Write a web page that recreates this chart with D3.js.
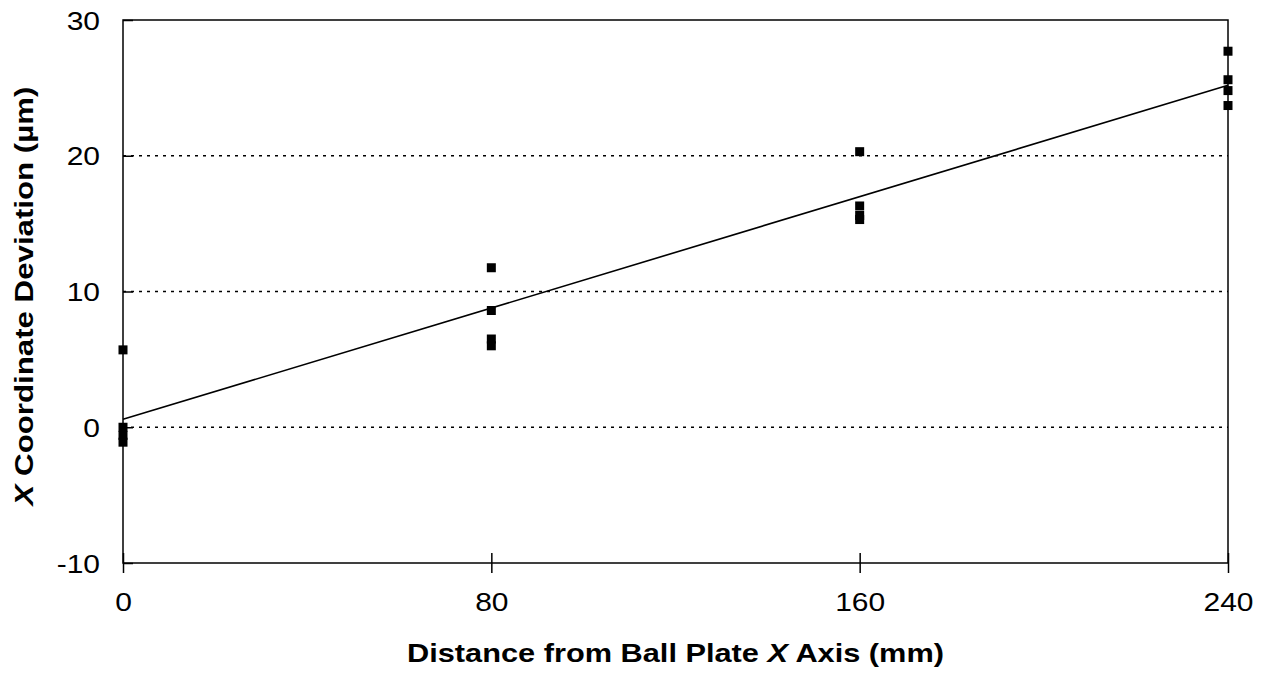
<!DOCTYPE html>
<html>
<head>
<meta charset="utf-8">
<script src="https://cdn.jsdelivr.net/npm/d3@7"></script>
<style>
  body { margin: 0; background: #fff; }
  text { font-family: "Liberation Sans", Arial, sans-serif; fill: #000; }
</style>
</head>
<body>
<svg id="chart"></svg>
<script>
// measured positions along the ball plate (mm)
const distances = [0, 80, 160, 240];
// X coordinate deviation readings (um) at each distance
const dev0   = [5.7, 0.0, -0.6, -1.1];
const dev80  = [11.75, 8.6, 6.5, 6.0];
const dev160 = [20.3, 16.3, 15.6, 15.3];
const dev240 = [27.7, 25.6, 24.8, 23.7];
const xTicks = [0, 80, 160, 240];
const yTicks = [-10, 0, 10, 20, 30];
const gridLines = [0, 10, 20];

const groups = [dev0, dev80, dev160, dev240];
const points = [];
groups.forEach((g, i) => g.forEach(v => points.push({x: distances[i], y: v})));

const width = 1266, height = 674;
const margin = {top: 20, right: 38, bottom: 111, left: 123};

const svg = d3.select('#chart').attr('width', width).attr('height', height);
const chart = svg.append('g').attr('transform', `translate(${margin.left}, ${margin.top})`);
const innerW = width - margin.left - margin.right;
const innerH = height - margin.top - margin.bottom;

const xscale = d3.scaleLinear().domain([0, 240]).range([0, innerW]);
const yscale = d3.scaleLinear().domain([-10, 30]).range([innerH, 0]);

// text in the original is a bit wider than Arial
const stretch = 1.2;

// dotted gridlines
chart.selectAll('.grid')
    .data(gridLines)
    .join('line')
    .attr('x1', 0).attr('x2', innerW)
    .attr('y1', d => yscale(d)).attr('y2', d => yscale(d))
    .style('stroke', '#000')
    .style('stroke-width', 1.6)
    .style('stroke-dasharray', '3,5');

// frame
chart.append('rect')
    .attr('width', innerW).attr('height', innerH)
    .style('fill', 'none').style('stroke', '#000').style('stroke-width', 1.5);

// axes with ticks crossing the lines
const yAxis = chart.append('g')
    .call(d3.axisLeft(yscale).tickValues(yTicks).tickFormat(d => String(d))
        .tickSizeInner(10).tickSizeOuter(0));
yAxis.select('.domain').remove();
yAxis.selectAll('.tick line').attr('x2', 10).style('stroke-width', 1.5);
yAxis.selectAll('.tick text')
    .attr('x', 0)
    .attr('transform', `translate(-23,1) scale(${stretch},1)`)
    .style('font-size', '25px');

const xAxis = chart.append('g')
    .attr('transform', `translate(0, ${innerH})`)
    .call(d3.axisBottom(xscale).tickValues(xTicks).tickFormat(d => String(d))
        .tickSizeInner(10).tickSizeOuter(0).tickPadding(20));
xAxis.select('.domain').remove();
xAxis.selectAll('.tick line').attr('y1', -10).style('stroke-width', 1.5);
xAxis.selectAll('.tick text')
    .attr('transform', `scale(${stretch},1)`)
    .style('font-size', '25px');

// least squares trend line
const mx = d3.mean(points, d => d.x), my = d3.mean(points, d => d.y);
const slope = d3.sum(points, d => (d.x - mx) * (d.y - my)) / d3.sum(points, d => (d.x - mx) ** 2);
const icpt = my - slope * mx;
chart.append('path')
    .attr('d', d3.line()([[xscale(0), yscale(icpt)], [xscale(240), yscale(icpt + slope * 240)]]))
    .style('fill', 'none').style('stroke', '#000').style('stroke-width', 1.6);

// markers
const s = 9;
chart.selectAll('.pt')
    .data(points)
    .join('rect')
    .attr('x', d => xscale(d.x) - s / 2)
    .attr('y', d => yscale(d.y) - s / 2)
    .attr('width', s).attr('height', s)
    .style('fill', '#000');

// axis titles
const xt = svg.append('text')
    .attr('transform', `translate(${margin.left + innerW / 2}, 662) scale(1.23,1)`)
    .attr('text-anchor', 'middle')
    .style('font-size', '25px').style('font-weight', 'bold');
xt.append('tspan').text('Distance from Ball Plate ');
xt.append('tspan').style('font-style', 'italic').text('X');
xt.append('tspan').text(' Axis (mm)');

const yt = svg.append('text')
    .attr('transform', `translate(33, 296) rotate(-90) scale(1.25,1)`)
    .attr('text-anchor', 'middle')
    .style('font-size', '25px').style('font-weight', 'bold');
yt.append('tspan').style('font-style', 'italic').text('X');
yt.append('tspan').text(' Coordinate Deviation (µm)');
</script>
</body>
</html>
